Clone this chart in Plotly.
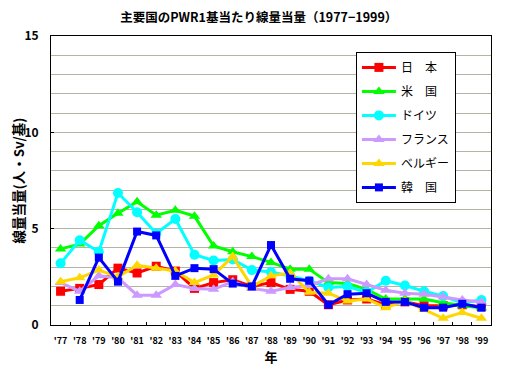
import plotly.graph_objects as go

years = ["'77", "'78", "'79", "'80", "'81", "'82", "'83", "'84", "'85", "'86", "'87", "'88",
         "'89", "'90", "'91", "'92", "'93", "'94", "'95", "'96", "'97", "'98", "'99"]

japan   = [1.75, 1.9, 2.1, 2.95, 2.7, 3.05, 2.8, 1.9, 2.2, 2.35, 2.0, 2.2, 1.85, 1.75, 1.05, 1.3, 1.35, 1.05, 1.2, 1.0, 1.0, 1.05, 0.95]
usa     = [3.95, 4.2, 5.15, 5.8, 6.4, 5.7, 5.95, 5.65, 4.1, 3.8, 3.55, 3.25, 2.9, 2.9, 2.2, 2.15, 1.85, 1.35, 1.35, 1.35, 1.15, 1.0, 0.9]
germany = [3.2, 4.4, 3.8, 6.85, 5.85, 4.75, 5.5, 3.65, 3.35, 3.4, 2.85, 2.75, 2.55, 2.3, 1.95, 2.0, 1.7, 2.3, 2.05, 1.75, 1.5, 1.15, 1.3]
france  = [2.2, 1.75, 2.55, 2.45, 1.55, 1.55, 2.1, 1.9, 1.85, 2.25, 1.9, 1.75, 1.95, 2.05, 2.4, 2.4, 2.1, 1.8, 1.65, 1.6, 1.45, 1.3, 1.2]
belgium = [2.25, 2.45, 2.85, 2.5, 3.1, 2.95, 2.8, 2.2, 2.6, 3.55, 2.0, 2.55, 2.7, 1.7, 1.65, 1.25, 1.35, 0.9, 1.25, 0.8, 0.35, 0.65, 0.35]
korea   = [None, 1.3, 3.5, 2.25, 4.85, 4.65, 2.55, 2.95, 2.9, 2.15, 2.0, 4.15, 2.4, 2.3, 1.05, 1.6, 1.65, 1.2, 1.2, 0.9, 0.9, 1.1, 0.9]

series = [
    ("日　本", japan, "#ff0000", "square", 9),
    ("米　国", usa, "#00ff00", "triangle-up", 10),
    ("ドイツ", germany, "#00ffff", "circle", 10),
    ("フランス", france, "#cc99ff", "triangle-up", 10),
    ("ベルギー", belgium, "#ffd700", "triangle-up", 10),
    ("韓　国", korea, "#0000ff", "square", 8),
]

FONT = "Noto Sans CJK JP"

fig = go.Figure()
for i, (name, vals, color, sym, sz) in enumerate(series):
    fig.add_trace(go.Scatter(
        x=years, y=vals, name=name, mode="lines+markers",
        line=dict(color=color, width=3),
        marker=dict(color=color, symbol=sym, size=sz),
        legendgroup=f"g{i}",
        connectgaps=False,
    ))

# The page body keeps its default 8px margin, so the figure is sized to fit the window.
fig.update_layout(
    width=499, height=382,
    margin=dict(l=43, r=16, t=28, b=65),
    paper_bgcolor="white", plot_bgcolor="white",
    font=dict(family=FONT, color="black", size=11),
    title=dict(text="<b>主要国のPWR1基当たり線量当量（1977−1999）</b>",
               x=0.225, xanchor="left", y=0.974, yanchor="middle",
               font=dict(size=12.5, family=FONT)),
    showlegend=True,
    legend=dict(x=0.693, y=0.945, xanchor="left", yanchor="top",
                bgcolor="white", bordercolor="black", borderwidth=1,
                font=dict(size=12, family=FONT),
                tracegroupgap=5, itemwidth=34, entrywidth=135),
    xaxis=dict(
        type="category", range=[-0.5, 22.5], automargin=False,
        showline=True, linecolor="black", linewidth=1, mirror=True,
        ticks="inside", tickson="boundaries", ticklen=3, tickcolor="black",
        tickangle=0, ticklabelstandoff=7,
        tickfont=dict(size=9, family=FONT),
        title=dict(text="<b>年</b>", font=dict(size=13), standoff=0),
        showgrid=False,
    ),
    yaxis=dict(
        range=[0, 15], tickvals=[0, 5, 10, 15], ticktext=["<b>0</b>", "<b>5</b>", "<b>10</b>", "<b>15</b>"],
        automargin=False,
        showline=True, linecolor="black", linewidth=1, mirror=True,
        ticks="inside", ticklen=3, tickcolor="black", ticklabelstandoff=9,
        tickfont=dict(size=12, family=FONT),
        minor=dict(dtick=1, showgrid=True, gridcolor="#b4b4a4", gridwidth=1),
        showgrid=True, gridcolor="#b4b4a4", gridwidth=1,
        zeroline=False,
        title=dict(text="<b>線量当量(人・Sv/基)</b>", font=dict(size=13.5), standoff=8),
    ),
)
fig.update_xaxes(ticktext=[f"<b>{y}</b>" for y in years], tickvals=years)

fig.write_html("out.html")
